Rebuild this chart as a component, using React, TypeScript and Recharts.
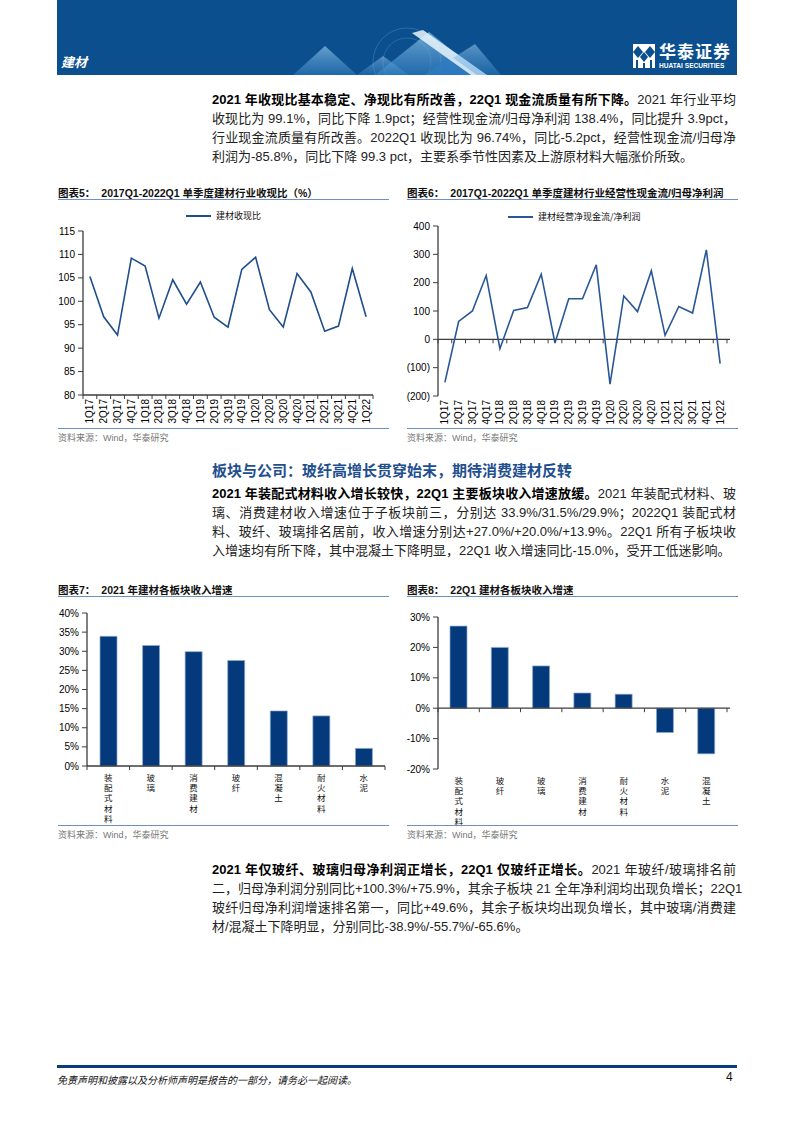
import React from "react";
import { LineChart, Line, BarChart, Bar, XAxis, YAxis, ReferenceLine } from "recharts";

// 2017Q1-2022Q1 单季度数据
const quarters = [
  "1Q17", "2Q17", "3Q17", "4Q17", "1Q18", "2Q18", "3Q18", "4Q18", "1Q19", "2Q19", "3Q19",
  "4Q19", "1Q20", "2Q20", "3Q20", "4Q20", "1Q21", "2Q21", "3Q21", "4Q21", "1Q22",
];
const cashRatio = [
  105.3, 96.7, 92.8, 109.2, 107.5, 96.4, 104.6, 99.4, 104.1, 96.6, 94.5,
  106.8, 109.4, 98.2, 94.5, 105.9, 102.0, 93.6, 94.7, 107.0, 96.7,
];
const ocfToProfit = [
  -152, 63, 100, 225, -33, 102, 112, 230, -13, 143, 143,
  263, -158, 153, 98, 242, 14, 116, 93, 316, -86,
];
const cashTicks = [80, 85, 90, 95, 100, 105, 110, 115];
const ocfTicks = [-200, -100, 0, 100, 200, 300, 400];

// 板块收入增速（%）
const sectors2021 = ["装配式材料", "玻璃", "消费建材", "玻纤", "混凝土", "耐火材料", "水泥"];
const growth2021 = [33.9, 31.5, 29.9, 27.6, 14.4, 13.1, 4.6];
const growth2021Ticks = [0, 5, 10, 15, 20, 25, 30, 35, 40];

const sectors22Q1 = ["装配式材料", "玻纤", "玻璃", "消费建材", "耐火材料", "水泥", "混凝土"];
const growth22Q1 = [27.0, 20.0, 13.9, 5.0, 4.6, -8.0, -15.0];
const growth22Q1Ticks = [-20, -15, -10, -5, 0, 5, 10, 15, 20, 25, 30];

const lineData5 = quarters.map((q, i) => ({ q, v: cashRatio[i] }));
const lineData6 = quarters.map((q, i) => ({ q, v: ocfToProfit[i] }));
const barData7 = sectors2021.map((s, i) => ({ s, v: growth2021[i] }));
const barData8 = sectors22Q1.map((s, i) => ({ s, v: growth22Q1[i] }));

const LATIN = '"Liberation Sans", Arial, "Noto Sans CJK SC", sans-serif';
const AXIS = "#3c3c3c";
const NAVY = "#0b4f8f";
const BAR = "#043a7c";
const RULE = "#6f8fbd";

const yTick = { fontSize: 10, fill: "#000", fontFamily: LATIN };

function RotTick(props: any) {
  const { x, y, payload, index, bw, n, marks } = props;
  return (
    <g>
      <text
        transform={`translate(${x + 3.5},${y + 4}) rotate(-90)`}
        textAnchor="end"
        fontSize={10}
        fontFamily={LATIN}
        fill="#000"
      >
        {payload.value}
      </text>
      {marks && <line x1={x - bw / 2} x2={x - bw / 2} y1={y} y2={y + 4} stroke={AXIS} strokeWidth={1} />}
      {marks && index === n - 1 && (
        <line x1={x + bw / 2} x2={x + bw / 2} y1={y} y2={y + 4} stroke={AXIS} strokeWidth={1} />
      )}
    </g>
  );
}

// 竖排类别标签，一字一行
function StackTick(props: any) {
  const { x, y, payload, index, bw, n, marks } = props;
  const chars = String(payload.value).split("");
  return (
    <g>
      {chars.map((c, i) => (
        <text
          key={i}
          x={x}
          y={y + 15 + i * 10.2}
          textAnchor="middle"
          fontSize={8.5}
          fontFamily='"Noto Sans CJK SC", sans-serif'
          fill="#111"
        >
          {c}
        </text>
      ))}
      {marks && <line x1={x - bw / 2} x2={x - bw / 2} y1={y} y2={y + 4} stroke={AXIS} strokeWidth={1} />}
      {marks && index === n - 1 && (
        <line x1={x + bw / 2} x2={x + bw / 2} y1={y} y2={y + 4} stroke={AXIS} strokeWidth={1} />
      )}
    </g>
  );
}

// zero line with category boundary ticks
function zeroLine(n: number) {
  return (p: any) => {
    const { x1, y1, x2 } = p;
    const step = (x2 - x1) / n;
    return (
      <g>
        <line x1={x1} x2={x2 + 3} y1={y1} y2={y1} stroke={AXIS} strokeWidth={1.2} />
        {Array.from({ length: n + 1 }, (_, i) => (
          <line key={i} x1={x1 + i * step} x2={x1 + i * step} y1={y1} y2={y1 + 4} stroke={AXIS} strokeWidth={1} />
        ))}
      </g>
    );
  };
}

type Seg = { b?: string; t: string };

function Para({ top, lines }: { top: number; lines: Seg[] }) {
  return (
    <div lang="zh-CN" style={{ position: "absolute", left: 212, top, width: 524, fontFamily: LATIN, fontSize: 13, color: "#222" }}>
      {lines.map((l, i) => (
        <div
          key={i}
          style={{
            height: 19,
            lineHeight: "19px",
            whiteSpace: "nowrap",
            textAlign: "justify",
            textAlignLast: i === lines.length - 1 ? "left" : "justify",
          }}
        >
          {l.b && <b style={{ color: "#000" }}>{l.b}</b>}
          {l.t}
        </div>
      ))}
    </div>
  );
}

function Title({ left, top, label, text }: { left: number; top: number; label: string; text: string }) {
  return (
    <>
      <div style={{ position: "absolute", left, top, fontFamily: LATIN, fontSize: 10.5, fontWeight: 700, color: "#111", whiteSpace: "nowrap" }}>
        {label}
        <span style={{ marginLeft: 6 }}>{text}</span>
      </div>
      <div style={{ position: "absolute", left, top: top + 14, width: 331, height: 1, background: RULE }} />
    </>
  );
}

function Source({ left, top }: { left: number; top: number }) {
  return (
    <>
      <div style={{ position: "absolute", left, top, width: 331, height: 1, background: RULE }} />
      <div style={{ position: "absolute", left, top: top + 3, fontFamily: LATIN, fontSize: 9, color: "#777", whiteSpace: "nowrap" }}>
        资料来源：Wind，华泰研究
      </div>
    </>
  );
}

function Legend({ left, top, color, label }: { left: number; top: number; color: string; label: string }) {
  return (
    <div style={{ position: "absolute", left, top, display: "flex", alignItems: "center", fontFamily: '"Noto Sans CJK SC", sans-serif', fontSize: 9, color: "#111" }}>
      <div style={{ width: 25, height: 2, background: color, marginRight: 5 }} />
      {label}
    </div>
  );
}

function Header() {
  return (
    <div style={{ position: "absolute", left: 57, top: 0, width: 680, height: 75, background: NAVY, overflow: "hidden" }}>
      <svg width={680} height={75} style={{ position: "absolute", left: 0, top: 0 }}>
        <defs>
          <linearGradient id="tri" x1="0" y1="0" x2="0" y2="1">
            <stop offset="0" stopColor="#9fd0f2" stopOpacity={0.9} />
            <stop offset="1" stopColor="#3d8ed0" stopOpacity={0.6} />
          </linearGradient>
        </defs>
        <circle cx={350} cy={62} r={34} fill="none" stroke="#5fa3dc" strokeOpacity={0.35} />
        <circle cx={350} cy={62} r={24} fill="none" stroke="#5fa3dc" strokeOpacity={0.3} />
        <polygon points="236,75 268,46 300,75" fill="url(#tri)" opacity={0.7} />
        <polygon points="300,75 326,56 352,75" fill="url(#tri)" opacity={0.55} />
        <polygon points="318,75 372,32 426,75" fill="url(#tri)" opacity={0.75} />
        <polygon points="368,75 398,52 430,75" fill="#2e7cc2" opacity={0.8} />
        <polygon points="355,33 366,30 430,75 414,75" fill="#e8f4fc" opacity={0.85} />
        <polygon points="396,58 418,44 444,75 420,75" fill="url(#tri)" opacity={0.6} />
      </svg>
      <div style={{ position: "absolute", left: 4, top: 52, color: "#fff", fontFamily: '"Noto Sans CJK SC", sans-serif', fontWeight: 700, fontStyle: "italic", fontSize: 13 }}>
        建材
      </div>
      <svg width={22} height={24} style={{ position: "absolute", left: 576, top: 44 }}>
        <rect x={0} y={0} width={22} height={24} fill="#fff" />
        <polygon points="5,2 10,8 5,14 0,8" fill={NAVY} />
        <polygon points="17,2 22,8 17,14 12,8" fill={NAVY} />
        <polygon points="11,8 15,13 11,18 7,13" fill={NAVY} />
        <rect x={3} y={16} width={2} height={8} fill={NAVY} />
        <rect x={10} y={19} width={2} height={5} fill={NAVY} />
        <rect x={17} y={16} width={2} height={8} fill={NAVY} />
      </svg>
      <div style={{ position: "absolute", left: 602, top: 41, color: "#fff", fontFamily: '"Noto Sans CJK SC", sans-serif', fontWeight: 700, fontSize: 17, letterSpacing: 1, lineHeight: "20px" }}>
        华泰证券
      </div>
      <div style={{ position: "absolute", left: 602, top: 62, color: "#fff", fontFamily: LATIN, fontWeight: 700, fontSize: 6.6, lineHeight: "8px", whiteSpace: "nowrap" }}>
        HUATAI SECURITIES
      </div>
    </div>
  );
}

export default function App() {
  const bw5 = 290 / 21;
  const bw6 = 289 / 21;
  const bw7 = 298 / 7;

  return (
    <div style={{ position: "relative", width: 793, height: 1122, background: "#fff", overflow: "hidden" }}>
      <style>{`body{margin:0}`}</style>
      <Header />

      <Para
        top={90}
        lines={[
          { b: "2021 年收现比基本稳定、净现比有所改善，22Q1 现金流质量有所下降。", t: "2021 年行业平均" },
          { t: "收现比为 99.1%，同比下降 1.9pct；经营性现金流/归母净利润 138.4%，同比提升 3.9pct，" },
          { t: "行业现金流质量有所改善。2022Q1 收现比为 96.74%，同比-5.2pct，经营性现金流/归母净" },
          { t: "利润为-85.8%，同比下降 99.3 pct，主要系季节性因素及上游原材料大幅涨价所致。" },
        ]}
      />

      {/* 图表5 */}
      <Title left={58} top={185} label="图表5：" text="2017Q1-2022Q1 单季度建材行业收现比（%）" />
      <Legend left={186} top={209} color="#1f4e8c" label="建材收现比" />
      <LineChart
        width={355}
        height={215}
        data={lineData5}
        margin={{ top: 11, right: 12, bottom: 0, left: 0 }}
        style={{ position: "absolute", left: 30, top: 220 }}
      >
        <XAxis
          dataKey="q"
          interval={0}
          height={40}
          padding={{ left: bw5 / 2, right: bw5 / 2 }}
          tickSize={0}
          tickMargin={0}
          tickLine={false}
          axisLine={{ stroke: AXIS, strokeWidth: 1.3 }}
          tick={(p: any) => <RotTick {...p} bw={bw5} n={21} marks />}
        />
        <YAxis
          width={53}
          domain={[80, 115]}
          ticks={cashTicks}
          tick={yTick}
          tickSize={5}
          tickMargin={3}
          tickLine={{ stroke: AXIS }}
          axisLine={{ stroke: AXIS, strokeWidth: 1.3 }}
        />
        <Line dataKey="v" stroke="#1f4e8c" strokeWidth={1.6} dot={false} isAnimationActive={false} />
      </LineChart>
      <Source left={58} top={428} />

      {/* 图表6 */}
      <Title left={407} top={185} label="图表6：" text="2017Q1-2022Q1 单季度建材行业经营性现金流/归母净利润" />
      <Legend left={508} top={210} color="#2a5797" label="建材经营净现金流/净利润" />
      <LineChart
        width={335}
        height={215}
        data={lineData6}
        margin={{ top: 6, right: 8, bottom: 0, left: 0 }}
        style={{ position: "absolute", left: 400, top: 220 }}
      >
        <XAxis
          dataKey="q"
          interval={0}
          height={39}
          padding={{ left: bw6 / 2, right: bw6 / 2 }}
          tickSize={0}
          tickMargin={0}
          tickLine={false}
          axisLine={false}
          tick={(p: any) => <RotTick {...p} bw={bw6} n={21} />}
        />
        <YAxis
          width={38}
          domain={[-200, 400]}
          ticks={ocfTicks}
          tick={yTick}
          tickSize={5}
          tickMargin={3}
          tickLine={{ stroke: AXIS }}
          axisLine={{ stroke: AXIS, strokeWidth: 1.3 }}
          tickFormatter={(v: number) => (v < 0 ? `(${-v})` : `${v}`)}
        />
        <ReferenceLine y={0} shape={zeroLine(21)} />
        <Line dataKey="v" stroke="#2a5797" strokeWidth={1.6} dot={false} isAnimationActive={false} />
      </LineChart>
      <Source left={407} top={428} />

      <div style={{ position: "absolute", left: 212, top: 459, fontFamily: '"Noto Sans CJK SC", sans-serif', fontWeight: 700, fontSize: 15, color: "#1f4f8f", whiteSpace: "nowrap" }}>
        板块与公司：玻纤高增长贯穿始末，期待消费建材反转
      </div>
      <Para
        top={484}
        lines={[
          { b: "2021 年装配式材料收入增长较快，22Q1 主要板块收入增速放缓。", t: "2021 年装配式材料、玻" },
          { t: "璃、消费建材收入增速位于子板块前三，分别达 33.9%/31.5%/29.9%；2022Q1 装配式材" },
          { t: "料、玻纤、玻璃排名居前，收入增速分别达+27.0%/+20.0%/+13.9%。22Q1 所有子板块收" },
          { t: "入增速均有所下降，其中混凝土下降明显，22Q1 收入增速同比-15.0%，受开工低迷影响。" },
        ]}
      />

      {/* 图表7 */}
      <Title left={58} top={582} label="图表7：" text="2021 年建材各板块收入增速" />
      <BarChart
        width={360}
        height={232}
        data={barData7}
        margin={{ top: 8, right: 5, bottom: 0, left: 0 }}
        style={{ position: "absolute", left: 30, top: 605 }}
      >
        <XAxis
          dataKey="s"
          interval={0}
          height={71}
          tickSize={0}
          tickMargin={0}
          tickLine={false}
          axisLine={{ stroke: AXIS, strokeWidth: 1.3 }}
          tick={(p: any) => <StackTick {...p} bw={bw7} n={7} marks />}
        />
        <YAxis
          width={57}
          domain={[0, 40]}
          ticks={growth2021Ticks}
          tick={yTick}
          tickSize={5}
          tickMargin={3}
          tickLine={{ stroke: AXIS }}
          axisLine={{ stroke: AXIS, strokeWidth: 1.3 }}
          tickFormatter={(v: number) => `${v}%`}
        />
        <Bar dataKey="v" fill={BAR} stroke="#8ea9cd" strokeWidth={0.7} barSize={17} isAnimationActive={false} />
      </BarChart>
      <Source left={58} top={825} />

      {/* 图表8 */}
      <Title left={407} top={582} label="图表8：" text="22Q1 建材各板块收入增速" />
      <BarChart
        width={335}
        height={232}
        data={barData8}
        margin={{ top: 12, right: 8, bottom: 0, left: 0 }}
        style={{ position: "absolute", left: 400, top: 605 }}
      >
        <XAxis
          dataKey="s"
          interval={0}
          height={68}
          tickSize={0}
          tickMargin={0}
          tickLine={false}
          axisLine={false}
          tick={(p: any) => <StackTick {...p} bw={289 / 7} n={7} />}
        />
        <YAxis
          width={38}
          domain={[-20, 30]}
          ticks={growth22Q1Ticks}
          tick={yTick}
          tickSize={5}
          tickMargin={3}
          tickLine={{ stroke: AXIS }}
          axisLine={{ stroke: AXIS, strokeWidth: 1.3 }}
          tickFormatter={(v: number) => `${v}%`}
        />
        <Bar dataKey="v" fill={BAR} stroke="#8ea9cd" strokeWidth={0.7} barSize={17} isAnimationActive={false} />
        <ReferenceLine y={0} shape={zeroLine(7)} />
      </BarChart>
      <Source left={407} top={825} />

      <Para
        top={860}
        lines={[
          { b: "2021 年仅玻纤、玻璃归母净利润正增长，22Q1 仅玻纤正增长。", t: "2021 年玻纤/玻璃排名前" },
          { t: "二，归母净利润分别同比+100.3%/+75.9%，其余子板块 21 全年净利润均出现负增长；22Q1" },
          { t: "玻纤归母净利润增速排名第一，同比+49.6%，其余子板块均出现负增长，其中玻璃/消费建" },
          { t: "材/混凝土下降明显，分别同比-38.9%/-55.7%/-65.6%。" },
        ]}
      />

      <div style={{ position: "absolute", left: 57, top: 1065, width: 680, height: 3, background: "#0b3d7a" }} />
      <div style={{ position: "absolute", left: 57, top: 1072, fontFamily: '"Noto Sans CJK SC", sans-serif', fontStyle: "italic", fontSize: 10, color: "#111", whiteSpace: "nowrap" }}>
        免责声明和披露以及分析师声明是报告的一部分，请务必一起阅读。
      </div>
      <div style={{ position: "absolute", left: 726, top: 1070, fontFamily: LATIN, fontSize: 12, color: "#111" }}>4</div>
    </div>
  );
}
